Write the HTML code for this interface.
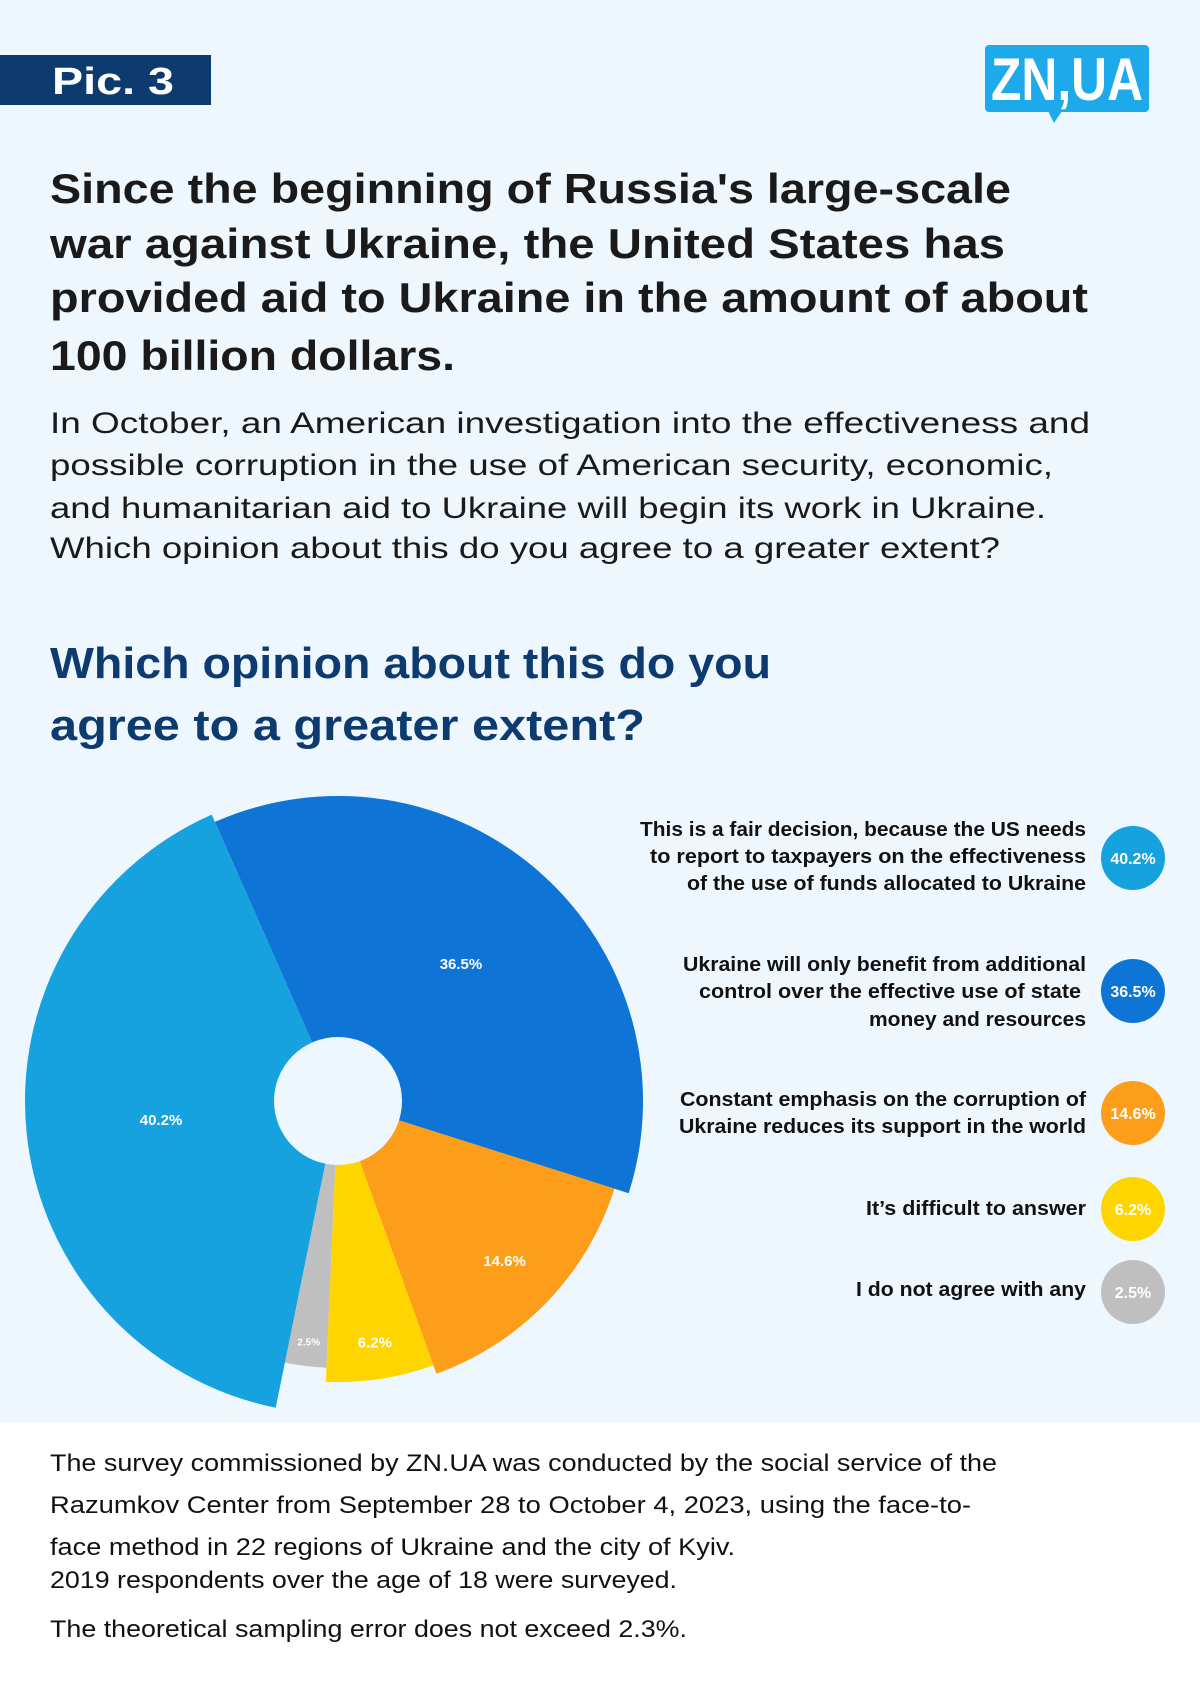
<!DOCTYPE html>
<html><head><meta charset="utf-8"><style>
html,body{margin:0;padding:0;background:#fff}
svg{display:block}
text{font-family:"Liberation Sans",sans-serif}
</style></head><body>
<svg id="page" width="1200" height="1686" viewBox="0 0 1200 1686" xmlns="http://www.w3.org/2000/svg">
<rect x="0" y="0" width="1200" height="1422" fill="#eff7fe"/>
<rect x="0" y="1422" width="1200" height="264" fill="#ffffff"/>
<g>
<rect x="0" y="55" width="211" height="50" fill="#0d3b70"/>
<text x="52" y="94" font-size="38" font-weight="bold" fill="#fff" textLength="122" lengthAdjust="spacingAndGlyphs">Pic. 3</text>
</g>
<g>
<rect x="985" y="45" width="164" height="67" rx="4" fill="#1eaaea"/>
<path d="M1048 111 L1062 111 L1054 123 Z" fill="#1eaaea"/>
<text x="991" y="100" font-size="60" font-weight="bold" fill="#fff" textLength="152" lengthAdjust="spacingAndGlyphs">ZN,UA</text>
</g>
<g font-size="42" font-weight="bold" fill="#1a1a1a">
<text x="50" y="203" textLength="961" lengthAdjust="spacingAndGlyphs">Since the beginning of Russia's large-scale</text>
<text x="50" y="258" textLength="955" lengthAdjust="spacingAndGlyphs">war against Ukraine, the United States has</text>
<text x="50" y="312" textLength="1038" lengthAdjust="spacingAndGlyphs">provided aid to Ukraine in the amount of about</text>
<text x="50" y="370" textLength="405" lengthAdjust="spacingAndGlyphs">100 billion dollars.</text>
</g>
<g font-size="30" fill="#1a1a1a">
<text x="50" y="433" textLength="1040" lengthAdjust="spacingAndGlyphs">In October, an American investigation into the effectiveness and</text>
<text x="50" y="475" textLength="1003" lengthAdjust="spacingAndGlyphs">possible corruption in the use of American security, economic,</text>
<text x="50" y="518" textLength="996" lengthAdjust="spacingAndGlyphs">and humanitarian aid to Ukraine will begin its work in Ukraine.</text>
<text x="50" y="558" textLength="950" lengthAdjust="spacingAndGlyphs">Which opinion about this do you agree to a greater extent?</text>
</g>
<g font-size="44" font-weight="bold" fill="#0d3b70">
<text x="50" y="678" textLength="721" lengthAdjust="spacingAndGlyphs">Which opinion about this do you</text>
<text x="50" y="740" textLength="595" lengthAdjust="spacingAndGlyphs">agree to a greater extent?</text>
</g>
<g id="pie"></g>
<g id="legend" font-size="20" font-weight="bold" fill="#111" text-anchor="end">
<g>
<text x="1086" y="836" textLength="446" lengthAdjust="spacingAndGlyphs">This is a fair decision, because the US needs</text>
<text x="1086" y="863" textLength="436" lengthAdjust="spacingAndGlyphs">to report to taxpayers on the effectiveness</text>
<text x="1086" y="890" textLength="399" lengthAdjust="spacingAndGlyphs">of the use of funds allocated to Ukraine</text>
</g>
<g>
<text x="1086" y="971" textLength="403" lengthAdjust="spacingAndGlyphs">Ukraine will only benefit from additional</text>
<text x="1081" y="998" textLength="382" lengthAdjust="spacingAndGlyphs">control over the effective use of state</text>
<text x="1086" y="1026" textLength="217" lengthAdjust="spacingAndGlyphs">money and resources</text>
</g>
<g>
<text x="1086" y="1106" textLength="406" lengthAdjust="spacingAndGlyphs">Constant emphasis on the corruption of</text>
<text x="1086" y="1133" textLength="407" lengthAdjust="spacingAndGlyphs">Ukraine reduces its support in the world</text>
</g>
<g>
<text x="1086" y="1215" textLength="220" lengthAdjust="spacingAndGlyphs">It’s difficult to answer</text>
</g>
<g>
<text x="1086" y="1296" textLength="230" lengthAdjust="spacingAndGlyphs">I do not agree with any</text>
</g>
</g>
<g id="badges"></g>
<g font-size="24" fill="#111">
<text x="50" y="1471" textLength="947" lengthAdjust="spacingAndGlyphs">The survey commissioned by ZN.UA was conducted by the social service of the</text>
<text x="50" y="1513" textLength="921" lengthAdjust="spacingAndGlyphs">Razumkov Center from September 28 to October 4, 2023, using the face-to-</text>
<text x="50" y="1555" textLength="685" lengthAdjust="spacingAndGlyphs">face method in 22 regions of Ukraine and the city of Kyiv.</text>
<text x="50" y="1588" textLength="627" lengthAdjust="spacingAndGlyphs">2019 respondents over the age of 18 were surveyed.</text>
<text x="50" y="1637" textLength="637" lengthAdjust="spacingAndGlyphs">The theoretical sampling error does not exceed 2.3%.</text>
</g>
</svg>
<script>
const categories = ["Ukraine will only benefit from additional control", "Constant emphasis on corruption", "It's difficult to answer", "I do not agree with any", "This is a fair decision"];
const values = [36.5, 14.6, 6.2, 2.5, 40.2];
const valueLabels = ["36.5%", "14.6%", "6.2%", "2.5%", "40.2%"];
const colors = ["#0e75d6", "#fd9e1b", "#ffd500", "#bfbfbf", "#15a2de"];
const outerRadii = [305, 290, 281, 267, 313];
const legendValues = [40.2, 36.5, 14.6, 6.2, 2.5];
const legendColors = ["#15a2de", "#0e75d6", "#fd9e1b", "#ffd500", "#bfbfbf"];

const NS = "http://www.w3.org/2000/svg";
const cx = 338, cy = 1101, hole = 64, startDeg = -23.8;
const total = values.reduce((a, b) => a + b, 0);
function angleOf(v) { return v / total * 360; }
function pt(deg, r) { const a = deg * Math.PI / 180; return [cx + r * Math.sin(a), cy - r * Math.cos(a)]; }
const pie = document.getElementById('pie');
let acc = startDeg;
values.forEach((v, i) => {
  const a0 = acc, a1 = acc + angleOf(v); acc = a1;
  const R = outerRadii[i];
  const p0 = pt(a0, R), p1 = pt(a1, R);
  const large = (a1 - a0) > 180 ? 1 : 0;
  const path = document.createElementNS(NS, 'path');
  path.setAttribute('d', `M${cx},${cy} L${p0[0]},${p0[1]} A${R},${R} 0 ${large} 1 ${p1[0]},${p1[1]} Z`);
  path.setAttribute('fill', colors[i]);
  
  
  pie.appendChild(path);
  const mid = (a0 + a1) / 2;
  const f = 0.9 - 0.011 * (v / total * 100);
  const lr = hole + (R - hole) * f;
  const lp = pt(mid, lr);
  const t = document.createElementNS(NS, 'text');
  t.setAttribute('x', lp[0]); t.setAttribute('y', lp[1] + 5);
  t.setAttribute('text-anchor', 'middle');
  t.setAttribute('font-size', v < 4 ? 10 : 15);
  t.setAttribute('font-weight', 'bold');
  t.setAttribute('fill', '#fff');
  t.textContent = valueLabels[i];
  
  
  pie.appendChild(t);
});
const h = document.createElementNS(NS, 'circle');
h.setAttribute('cx', cx); h.setAttribute('cy', cy); h.setAttribute('r', hole); h.setAttribute('fill', '#eff7fe');


pie.appendChild(h);

const badgeY = [858, 991, 1113, 1209, 1292];
const badges = document.getElementById('badges');
legendValues.forEach((v, i) => {
  const c = document.createElementNS(NS, 'circle');
  c.setAttribute('cx', 1133); c.setAttribute('cy', badgeY[i]); c.setAttribute('r', 32);
  c.setAttribute('fill', legendColors[i]);
  
  
  badges.appendChild(c);
  const t = document.createElementNS(NS, 'text');
  t.setAttribute('x', 1133); t.setAttribute('y', badgeY[i] + 6);
  t.setAttribute('text-anchor', 'middle'); t.setAttribute('font-size', 16);
  t.setAttribute('font-weight', 'bold'); t.setAttribute('fill', '#fff');
  t.textContent = v.toFixed(1) + '%';
  
  
  badges.appendChild(t);
});
</script>
</body></html>
